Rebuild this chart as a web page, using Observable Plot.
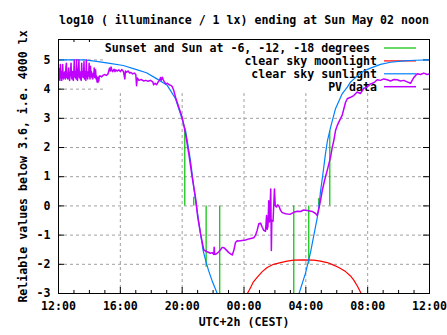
<!DOCTYPE html>
<html><head><meta charset="utf-8">
<script src="https://cdn.jsdelivr.net/npm/d3@7"></script>
<script src="https://cdn.jsdelivr.net/npm/@observablehq/plot@0.6"></script>
<style>html,body{margin:0;padding:0;background:#fff;} svg{display:block}</style>
</head><body><div id="chart"></div>
<script>
const titleText = "log10 ( illuminance / 1 lx) ending at Sun May 02 noon";
const yLabelText = "Reliable values below 3.6, i.e. 4000 lx";
const xLabelText = "UTC+2h (CEST)";
// x in hours after Sat 12:00 (CEST)
const xTickHours = [0, 4, 8, 12, 16, 20, 24];
const xTickLabels = ["12:00", "16:00", "20:00", "00:00", "04:00", "08:00", "12:00"];
const xGridHours = [4, 8, 12, 16, 20];
const xMinorHours = [1,2,3,5,6,7,9,10,11,13,14,15,17,18,19,21,22,23];
const yTicks = [-3, -2, -1, 0, 1, 2, 3, 4, 5];
const yGrid = [-2, -1, 0, 1, 2, 3, 4, 5];
const seriesNames = ["Sunset and Sun at -6, -12, -18 degrees ", "clear sky moonlight", "clear sky sunlight", "PV data"];
const seriesColors = ["#00c000", "#ff0000", "#0080ff", "#c000ff"];

// [hour, log10 lx] : sunset, sun at -6, -12, -18 (evening) and back (morning)
const twilightData = [[8.17, 2.62], [8.75, 0.3], [9.55, -2.1], [10.43, -3.0],
  [15.22, -3.0], [16.19, -2.0], [16.84, 0.25], [17.55, 2.56]];

const moonData = [[12.22, -3.0], [12.42, -2.8], [12.61, -2.6], [12.85, -2.45], [13.18, -2.25],
  [13.50, -2.11], [13.91, -2.0], [14.36, -1.94], [14.79, -1.89], [15.22, -1.86], [15.87, -1.85],
  [16.52, -1.86], [16.95, -1.89], [17.38, -1.94], [17.73, -2.01], [18.13, -2.11], [18.57, -2.25],
  [18.89, -2.4], [19.10, -2.54], [19.34, -2.75], [19.58, -3.0]];

const sunData = [[0.00, 5.0], [1.68, 5.0], [2.46, 4.95], [3.32, 4.88], [4.19, 4.81], [5.05, 4.67],
  [5.69, 4.56], [6.34, 4.36], [6.77, 4.22], [7.03, 4.13], [7.25, 3.95], [7.57, 3.67], [7.89, 3.15],
  [8.22, 2.58], [8.54, 1.55], [8.75, 0.64], [8.97, -0.17], [9.19, -0.96], [9.36, -1.54], [9.51, -1.85],
  [9.70, -2.2], [9.96, -2.6], [10.27, -3.0], [10.48, -3.3],
  [null, null],
  [15.46, -3.3], [15.56, -3.0], [15.98, -2.3], [16.30, -1.6], [16.52, -1.0], [16.74, -0.4], [16.85, 0.0],
  [16.95, 0.5], [17.08, 1.0], [17.27, 1.78], [17.40, 2.24], [17.60, 2.69], [17.92, 3.33], [18.35, 3.84],
  [18.68, 4.07], [18.89, 4.24], [19.32, 4.45], [19.75, 4.62], [20.18, 4.72], [20.83, 4.85], [21.48, 4.92],
  [22.34, 4.97], [23.10, 4.99], [24.0, 5.0]];

const pvData = [[0.00,4.55],[0.03,4.35],[0.06,4.7],[0.09,4.3],[0.12,4.84],[0.15,4.4],[0.18,4.6],[0.21,4.3],
  [0.24,4.5],[0.27,4.84],[0.30,4.45],[0.33,4.35],[0.36,4.55],[0.39,4.4],[0.42,4.6],[0.45,4.35],[0.48,4.75],
  [0.51,4.89],[0.54,4.4],[0.57,4.5],[0.60,4.35],[0.63,4.55],[0.66,4.72],[0.69,4.4],[0.72,4.3],[0.75,4.5],
  [0.78,4.6],[0.81,4.89],[0.84,4.45],[0.87,4.35],[0.90,4.6],[0.93,4.4],[0.96,4.3],[0.99,4.55],[1.02,5.0],
  [1.05,4.5],[1.08,4.4],[1.11,4.6],[1.14,4.35],[1.17,5.0],[1.20,4.45],[1.23,4.3],[1.26,4.55],[1.29,4.7],
  [1.32,5.0],[1.35,4.4],[1.38,4.6],[1.41,4.35],[1.44,4.5],[1.47,4.3],[1.50,4.89],[1.53,4.45],[1.56,4.6],
  [1.59,4.4],[1.62,4.5],[1.65,4.95],[1.68,4.35],[1.71,4.6],[1.74,4.45],[1.77,4.3],[1.80,5.0],[1.83,4.4],
  [1.86,4.55],[1.89,4.35],[1.92,4.6],[1.95,4.45],[1.98,4.89],[2.01,4.5],[2.04,4.35],[2.07,4.78],[2.10,4.45],
  [2.13,4.6],[2.16,4.4],[2.19,4.5],[2.22,4.35],[2.25,4.55],[2.28,4.45],[2.31,4.72],[2.34,4.4],[2.37,4.5],
  [2.40,4.66],[2.43,4.35],[2.46,4.45],[2.49,4.25],[2.52,4.4],[2.55,4.23],[2.58,4.4],[2.61,4.28],[2.64,4.45],
  [2.70,4.45],[2.80,4.42],[2.90,4.48],[3.00,4.5],[3.10,4.47],[3.20,4.52],[3.25,4.62],[3.30,4.72],[3.35,4.62],
  [3.40,4.76],[3.45,4.65],[3.50,4.6],[3.60,4.68],[3.65,4.6],[3.70,4.66],[3.80,4.62],[3.90,4.66],[4.00,4.6],
  [4.10,4.67],[4.20,4.6],[4.29,4.35],[4.33,4.62],[4.40,4.58],[4.50,4.62],[4.60,4.55],[4.70,4.57],[4.80,4.52],
  [4.90,4.55],[5.00,4.5],[5.05,4.12],[5.10,4.38],[5.20,4.3],[5.35,4.33],[5.50,4.28],[5.65,4.3],[5.80,4.27],
  [5.95,4.3],[6.10,4.25],[6.15,4.15],[6.25,4.2],[6.34,4.15],[6.45,4.25],[6.55,4.32],[6.60,4.4],[6.65,4.3],
  [6.72,4.41],[6.77,4.33],[6.85,4.25],[6.95,4.18],[7.05,4.2],[7.15,4.15],[7.30,4.12],[7.36,4.08],[7.46,3.95],
  [7.57,3.72],[7.78,3.38],[8.00,3.04],[8.22,2.47],[8.43,1.78],[8.65,0.98],[8.86,0.29],[9.01,-0.39],[9.19,-0.96],
  [9.30,-1.25],[9.40,-1.51],[9.62,-1.57],[9.83,-1.62],[9.94,-1.6],[10.05,-1.66],[10.07,-1.42],[10.10,-1.65],
  [10.16,-1.66],[10.27,-1.62],[10.37,-1.57],[10.48,-1.5],[10.59,-1.42],[10.69,-1.43],[10.80,-1.48],[11.02,-1.6],
  [11.13,-1.64],[11.24,-1.68],[11.34,-1.53],[11.45,-1.25],[11.56,-1.19],[11.66,-1.2],[11.77,-1.19],[12.10,-1.17],
  [12.31,-1.13],[12.63,-1.09],[12.74,-1.01],[12.85,-0.84],[12.96,-0.61],[13.07,-0.59],[13.18,-0.73],[13.28,-0.84],
  [13.39,-0.87],[13.46,-0.33],[13.50,-0.8],[13.55,-0.7],[13.60,0.18],[13.65,-0.55],[13.73,0.58],[13.77,-1.53],
  [13.80,-0.5],[13.88,-0.52],[13.97,0.58],[14.02,0.02],[14.10,-0.04],[14.18,0.04],[14.27,-0.02],[14.36,-0.15],
  [14.47,-0.23],[14.69,-0.27],[14.97,-0.29],[15.22,-0.22],[15.45,-0.18],[15.66,-0.19],[15.85,-0.14],[16.09,-0.16],
  [16.41,-0.19],[16.63,-0.26],[16.74,-0.33],[16.84,-0.1],[16.95,0.18],[17.06,0.52],[17.21,0.87],[17.38,1.21],
  [17.60,1.67],[17.71,2.01],[17.81,2.24],[17.92,2.58],[18.03,2.75],[18.13,2.87],[18.35,3.1],[18.46,3.33],
  [18.57,3.55],[18.68,3.67],[18.89,3.72],[19.10,3.78],[19.32,3.9],[19.53,3.85],[19.75,4.03],[19.97,4.07],
  [20.18,4.18],[20.40,4.22],[20.62,4.32],[20.83,4.3],[21.04,4.35],[21.26,4.32],[21.48,4.28],[21.70,4.33],
  [21.91,4.32],[22.12,4.28],[22.34,4.3],[22.55,4.25],[22.77,4.2],[22.99,4.4],[23.20,4.53],[23.42,4.5],
  [23.63,4.55],[23.85,4.5],[24.00,4.52]];

const W = 447, H = 335, mL = 58, mR = 18, mT = 39, mB = 42;
const fw = W - mL - mR, fh = H - mT - mB;
const FONT = "'DejaVu Sans Mono', 'Liberation Mono', monospace";
const FS = 11.6;
const gridStyle = {stroke: "#a0a0a0", strokeOpacity: 1, strokeWidth: 1, strokeDasharray: "3,3"};

function legendMark() {
  const g = d3.create("svg:g");
  g.append("rect").attr("x", 103).attr("y", mT + 0.5).attr("width", W - mR - 103 - 0.5).attr("height", 52)
    .attr("fill", "white");
  seriesNames.forEach((name, i) => {
    const cy = 48 + i * 12.9;
    g.append("text").attr("x", 377).attr("y", cy).attr("text-anchor", "end")
      .attr("dominant-baseline", "central").attr("font-family", FONT).attr("font-size", FS)
      .attr("font-weight", "bold").attr("fill", "black").style("white-space", "pre").text(name);
    g.append("line").attr("x1", 384).attr("x2", 416).attr("y1", cy).attr("y2", cy)
      .attr("stroke", seriesColors[i]).attr("stroke-width", i === 3 ? 1.5 : 1.2);
  });
  return g.node();
}

const chart = Plot.plot({
  width: W, height: H,
  marginLeft: mL, marginRight: mR, marginTop: mT, marginBottom: mB,
  x: {domain: [0, 24], axis: null},
  y: {domain: [-3, 5.7], axis: null},
  style: {fontFamily: FONT, fontSize: FS + "px", background: "white", color: "black"},
  marks: [
    Plot.ruleX(xGridHours, {x: d => d, ...gridStyle}),
    Plot.ruleY(yGrid, {y: d => d, ...gridStyle}),
    // top axis ticks
    Plot.ruleX(xTickHours, {x: d => d, insetBottom: fh - 6, stroke: "black"}),
    Plot.ruleX(xMinorHours, {x: d => d, insetBottom: fh - 3, stroke: "black"}),
    legendMark,
    // right axis ticks
    Plot.ruleY(yTicks, {y: d => d, insetLeft: fw - 6, stroke: "black"}),
    // bottom / left ticks
    Plot.ruleX(xTickHours, {x: d => d, insetTop: fh - 6, stroke: "black"}),
    Plot.ruleX(xMinorHours, {x: d => d, insetTop: fh - 3, stroke: "black"}),
    Plot.ruleY(yTicks, {y: d => d, insetRight: fw - 6, stroke: "black"}),
    // data
    Plot.ruleX(twilightData, {x: d => d[0], y1: 0, y2: d => d[1], stroke: seriesColors[0], strokeWidth: 1.2, clip: true}),
    Plot.line(moonData, {x: d => d[0], y: d => d[1], stroke: seriesColors[1], strokeWidth: 1.2, clip: true}),
    Plot.line(sunData, {x: d => d[0], y: d => d[1], stroke: seriesColors[2], strokeWidth: 1.2, clip: true}),
    Plot.line(pvData, {x: d => d[0], y: d => d[1], stroke: seriesColors[3], strokeWidth: 1.5, clip: true}),
    Plot.frame({stroke: "black", strokeWidth: 1}),
    // tick labels
    Plot.text(xTickHours, {x: d => d, text: (d, i) => xTickLabels[i], frameAnchor: "bottom", lineAnchor: "top",
      textAnchor: "middle", dy: 8, fontWeight: "bold", fontSize: FS, fill: "black"}),
    Plot.text(yTicks, {y: d => d, text: d => String(d), frameAnchor: "left", textAnchor: "end",
      dx: -8, fontWeight: "bold", fontSize: FS, fill: "black"}),
    // titles
    Plot.text([titleText], {text: d => d, frameAnchor: "top", lineAnchor: "bottom", textAnchor: "middle", dy: -16,
      fontWeight: "bold", fontSize: FS, fill: "black"}),
    Plot.text([xLabelText], {text: d => d, frameAnchor: "bottom", textAnchor: "middle", dy: 32,
      fontWeight: "bold", fontSize: FS, fill: "black"}),
    Plot.text([yLabelText], {text: d => d, frameAnchor: "left", textAnchor: "middle", dx: -35, rotate: -90,
      fontWeight: "bold", fontSize: FS, fill: "black"})
  ]
});
document.getElementById("chart").appendChild(chart);
</script>
</body></html>
